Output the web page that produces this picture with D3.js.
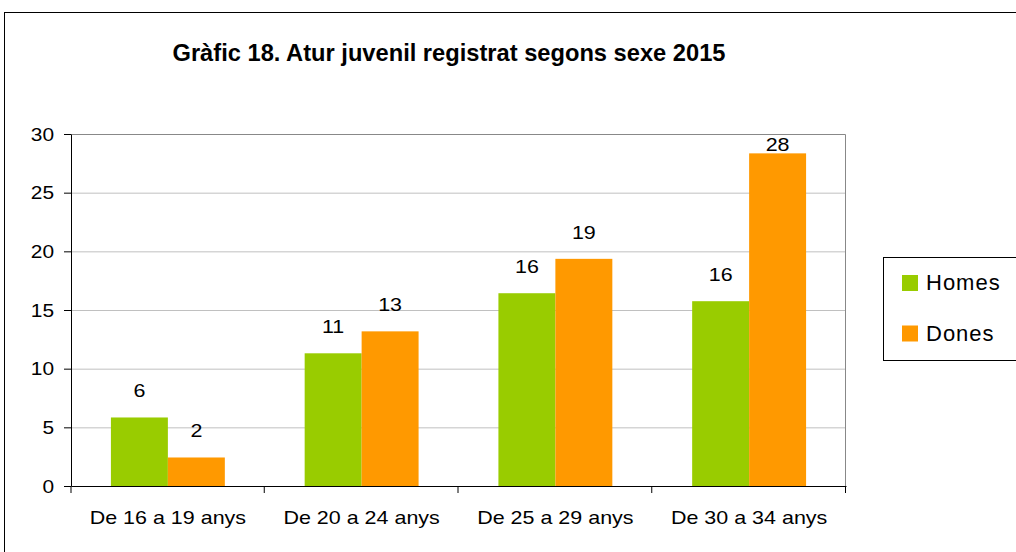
<html>
<head>
  <script src="https://d3js.org/d3.v7.min.js"></script>
  <style>
    body { margin: 0; background: #fff; }
    text { font-family: 'Liberation Sans', Arial, sans-serif; fill: #000; }
    .axis .domain { stroke: #000; }
    .axis line { stroke: #000; }
    .axis text { font-size: 19px; }
    .wide { transform-box: fill-box; transform-origin: center; transform: scaleX(1.13); }
    .wideR { transform-box: fill-box; transform-origin: right; transform: scaleX(1.1); }
    .gridlines line { stroke: #c0c0c0; }
    .gridlines .domain { stroke: none; }
  </style>
</head>
<body>
  <svg id="chart" width="1016" height="552"></svg>
  <script>
    // data
    const categories = ["De 16 a 19 anys", "De 20 a 24 anys", "De 25 a 29 anys", "De 30 a 34 anys"];
    const seriesNames = ["Homes", "Dones"];
    const homes = [5.84, 11.31, 16.43, 15.75];
    const dones = [2.43, 13.18, 19.36, 28.35];
    const yTicks = [0, 5, 10, 15, 20, 25, 30];
    const colors = ["#99cc00", "#ff9900"];

    const svg = d3.select("svg#chart");
    const margin = { top: 134, left: 71, right: 170, bottom: 66 };
    const width = +svg.attr("width");
    const height = +svg.attr("height");
    const plotW = width - margin.left - margin.right;
    const plotH = height - margin.top - margin.bottom;

    // outer frame
    svg.append("rect")
      .attr("x", 4.5).attr("y", 12.5)
      .attr("width", 1100).attr("height", 600)
      .attr("fill", "none").attr("stroke", "#000");

    // title
    svg.append("text")
      .attr("x", 449).attr("y", 61)
      .attr("text-anchor", "middle")
      .attr("font-size", "23px")
      .attr("font-weight", "bold")
      .style("transform-box", "fill-box").style("transform-origin", "center")
      .style("transform", "scaleX(1.03)")
      .text("Gràfic 18. Atur juvenil registrat segons sexe 2015");

    const g = svg.append("g").attr("transform", `translate(${margin.left},${margin.top})`);

    const x0 = d3.scaleBand().domain(categories).range([0, plotW]).padding(0);
    const x1 = d3.scaleBand().domain(seriesNames)
      .range([x0.bandwidth() * 0.206, x0.bandwidth() * 0.794]);
    const y = d3.scaleLinear().domain([0, 30]).range([plotH, 0]);

    // gridlines
    g.append("g").attr("class", "gridlines")
      .call(d3.axisLeft(y).tickValues(yTicks.slice(1, -1)).tickSize(-plotW).tickFormat(""));

    // plot border top/right
    g.append("path")
      .attr("d", `M0,0.5H${plotW - 0.5}V${plotH}`)
      .attr("fill", "none").attr("stroke", "#888");

    // bars
    const rows = categories.map((c, i) => ({ cat: c, vals: [homes[i], dones[i]] }));
    const groups = g.selectAll(".grp").data(rows).enter().append("g")
      .attr("class", "grp")
      .attr("transform", d => `translate(${x0(d.cat)},0)`);

    groups.selectAll("rect")
      .data(d => d.vals.map((v, k) => ({ s: seriesNames[k], v: v, k: k })))
      .enter().append("rect")
      .attr("x", d => x1(d.s))
      .attr("y", d => y(d.v))
      .attr("width", x1.bandwidth())
      .attr("height", d => plotH - y(d.v))
      .attr("fill", d => colors[d.k]);

    groups.selectAll("text.lbl")
      .data(d => d.vals.map((v, k) => ({ s: seriesNames[k], v: v })))
      .enter().append("text")
      .attr("class", "lbl wide")
      .attr("x", d => x1(d.s) + x1.bandwidth() / 2)
      .attr("y", d => Math.max(y(d.v) - 20, 17))
      .attr("text-anchor", "middle")
      .attr("font-size", "19px")
      .text(d => Math.round(d.v));

    // axes
    g.append("g").attr("class", "axis")
      .call(d3.axisLeft(y).tickValues(yTicks).tickSize(7).tickSizeOuter(0).tickPadding(10))
      .selectAll("text").attr("class", "wideR");

    g.append("g").attr("class", "axis")
      .attr("transform", `translate(0,${plotH})`)
      .call(d3.axisBottom(x0).tickSize(0).tickSizeOuter(0).tickPadding(25))
      .selectAll("text").attr("class", "wide");

    // category separator ticks
    g.append("g").selectAll("line")
      .data(d3.range(categories.length + 1))
      .enter().append("line")
      .attr("x1", i => i * x0.step() + (i === 0 ? 0 : -0.5))
      .attr("x2", i => i * x0.step() + (i === 0 ? 0 : -0.5))
      .attr("y1", plotH).attr("y2", plotH + 7)
      .attr("stroke", "#000");

    // legend
    const legend = svg.append("g").attr("transform", "translate(883,257)");
    legend.append("rect")
      .attr("x", 0.5).attr("y", 0.5)
      .attr("width", 200).attr("height", 103)
      .attr("fill", "#fff").attr("stroke", "#000");
    const items = legend.selectAll(".item").data(seriesNames).enter().append("g")
      .attr("transform", (d, i) => `translate(19,${18 + i * 50.5})`);
    items.append("rect")
      .attr("width", 16).attr("height", 16)
      .attr("fill", (d, i) => colors[i]);
    items.append("text")
      .attr("x", 24).attr("y", 15)
      .attr("font-size", "22px")
      .attr("letter-spacing", "1px")
      .text(d => d);
  </script>
</body>
</html>
